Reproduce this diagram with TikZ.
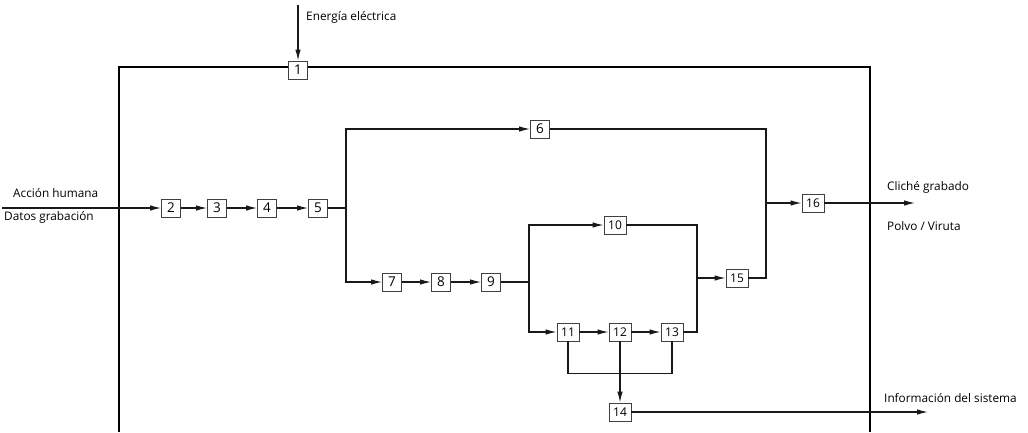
\documentclass[tikz,border=0pt]{standalone}
\usepackage{fontspec}
\setmainfont{Open Sans}
\usetikzlibrary{arrows.meta}
\begin{document}
\begin{tikzpicture}[x=1pt,y=-1pt,
  b/.style={draw=black!75,fill=white,line width=0.8pt,minimum width=19pt,minimum height=18pt,inner sep=0pt,font=\fontsize{13.5}{14}\selectfont},
  bb/.style={b,minimum width=22pt,font=\fontsize{12}{14}\selectfont},
  ln/.style={line width=1.2pt,draw=black!90},
  arr/.style={ln,-{Latex[length=11pt,width=5.5pt]}},
  lbl/.style={font=\fontsize{11.8}{13}\selectfont,inner sep=0pt,anchor=west}]
\useasboundingbox (0,0) rectangle (1028,432);
% frame
\draw[line width=1.1pt] (119,432) -- (119,67) -- (870,67) -- (870,432);
% nodes
\node[b] (n1) at (298,70) {1};
\node[b] (n2) at (171,208) {2};
\node[b] (n3) at (217,208) {3};
\node[b] (n4) at (267,208) {4};
\node[b] (n5) at (318,208) {5};
\node[b] (n6) at (540,129) {6};
\node[b] (n7) at (392,282) {7};
\node[b] (n8) at (441,282) {8};
\node[b] (n9) at (491,282) {9};
\node[bb] (n10) at (615,225) {10};
\node[bb] (n11) at (568,332) {11};
\node[bb] (n12) at (620,332) {12};
\node[bb] (n13) at (672,332) {13};
\node[bb] (n14) at (620,412) {14};
\node[bb] (n15) at (737,278) {15};
\node[bb] (n16) at (813,203) {16};
% coordinates
\coordinate (e) at (298,5);
\coordinate (in) at (2,208);
\coordinate (s1) at (346,208);
\coordinate (s2) at (529,282);
\coordinate (j1) at (697,278);
\coordinate (j2) at (766,203);
\coordinate (o1) at (915,203);
\coordinate (o2) at (928,412);
% connectors
\draw[arr] (e) -- (n1);
\draw[arr] (in) -- (n2);
\draw[arr] (n2) -- (n3);
\draw[arr] (n3) -- (n4);
\draw[arr] (n4) -- (n5);
\draw[ln] (n5) -- (s1);
\draw[arr] (s1) |- (n6);
\draw[arr] (s1) |- (n7);
\draw[arr] (n7) -- (n8);
\draw[arr] (n8) -- (n9);
\draw[ln] (n9) -- (s2);
\draw[arr] (s2) |- (n10);
\draw[arr] (s2) |- (n11);
\draw[arr] (n11) -- (n12);
\draw[arr] (n12) -- (n13);
\draw[ln] (n11.south) -- ++(0,32) -| (n13.south);
\draw[arr] (n12) -- (n14);
\draw[ln] (n10) -| (j1);
\draw[ln] (n13) -| (j1);
\draw[arr] (j1) -- (n15);
\draw[ln] (n6) -| (j2);
\draw[ln] (n15) -| (j2);
\draw[arr] (j2) -- (n16);
\draw[arr] (n16) -- (o1);
\draw[arr] (n14) -- (o2);
% labels
\node[lbl] (t1) at (306,17) {Energía eléctrica};
\node[lbl] (t2) at (13,193) {Acción humana};
\node[lbl] (t3) at (4,217) {Datos grabación};
\node[lbl] (t4) at (887,187) {Cliché grabado};
\node[lbl] (t5) at (887,226) {Polvo / Viruta};
\node[lbl] (t6) at (884,398) {Información del sistema};
\end{tikzpicture}
\end{document}
